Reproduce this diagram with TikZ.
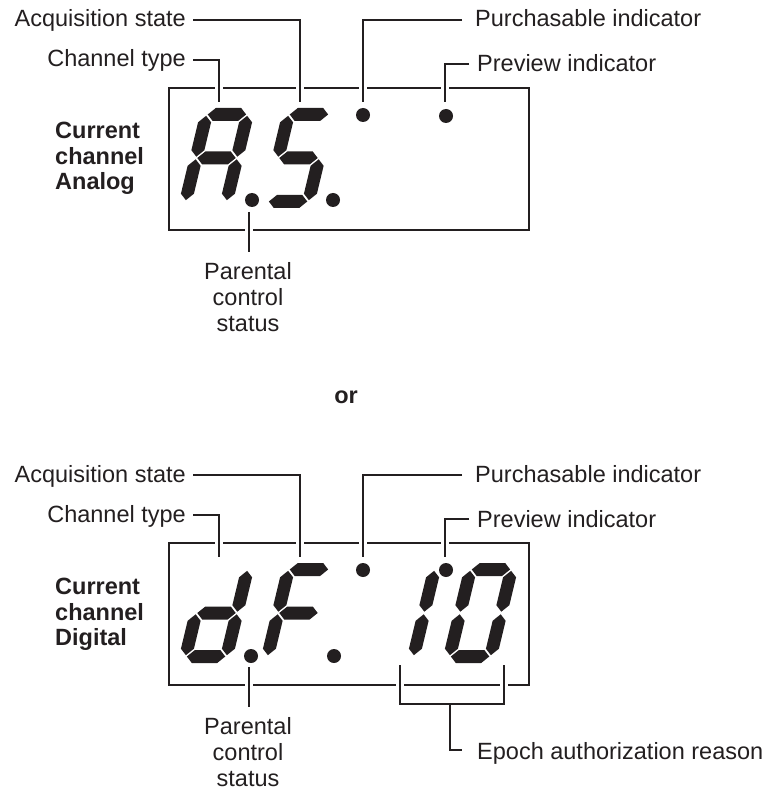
\documentclass[tikz,border=0pt]{standalone}
\usepackage{fontspec}
\setmainfont{Liberation Sans}
\definecolor{ink}{RGB}{35,31,32}
\tikzset{
  lbl/.style={inner sep=0pt, font=\fontsize{23.5}{26}\selectfont, text=ink},
  blbl/.style={inner sep=0pt, font=\fontsize{23.5}{26}\selectfont\bfseries, text=ink},
  frame/.style={draw=ink, line width=2.4pt, inner sep=0pt, minimum width=360pt, minimum height=142pt},
  leader/.style={draw=ink, line width=2.4pt, preaction={draw=white, line width=8.5pt}},
  plainleader/.style={draw=ink, line width=2.4pt},
  dotnode/.style={circle, fill=ink, minimum size=14pt, inner sep=0pt},
  seg/.style={fill=ink},
}
% hexagonal segments, thickness 13, in a local frame 54 x 100
\newcommand{\segH}[1]{\fill[seg] (7.8,#1) -- (14.3,#1+6.5) -- (39.7,#1+6.5) -- (46.2,#1) -- (39.7,#1-6.5) -- (14.3,#1-6.5) -- cycle;}
\newcommand{\segV}[3]{\fill[seg] (#1,#2+1.3) -- (#1+6.5,#2+7.8) -- (#1+6.5,#3-7.8) -- (#1,#3-1.3) -- (#1-6.5,#3-7.8) -- (#1-6.5,#2+7.8) -- cycle;}
\newcommand{\dsA}{\segH{93.5}}
\newcommand{\dsB}{\segV{47.5}{50}{93.5}}
\newcommand{\dsC}{\segV{47.5}{6.5}{50}}
\newcommand{\dsD}{\segH{6.5}}
\newcommand{\dsE}{\segV{6.5}{6.5}{50}}
\newcommand{\dsF}{\segV{6.5}{50}{93.5}}
\newcommand{\dsG}{\segH{50}}
\newcommand{\sevenseg}[3]{\begin{scope}[shift={(#1,#2)}, x=1pt, y=1pt, xslant=0.24] #3 \end{scope}}
\begin{document}
\begin{tikzpicture}[x=1pt, y=-1pt]
\useasboundingbox (0,0) rectangle (769,791);

% ---------------- top display (analog) ----------------
\node[frame, anchor=north west] (disp1) at (168,87) {};
\sevenseg{177.5}{208}{\dsA\dsB\dsC\dsE\dsF\dsG}
\sevenseg{259.5}{208}{\dsA\dsF\dsG\dsC\dsD}
\node[dotnode] (pc1) at (252,200) {};
\node[dotnode] (sdot1) at (333,200) {};
\node[dotnode] (pur1d) at (363,115) {};
\node[dotnode] (pre1d) at (446,116) {};

\node[lbl, anchor=base east] (acq1) at (186,27) {Acquisition state};
\node[lbl, anchor=base east] (ch1) at (186,67) {Channel type};
\node[lbl, anchor=base west] (pur1) at (475,27) {Purchasable indicator};
\node[lbl, anchor=base west] (pre1) at (477,72) {Preview indicator};
\node[blbl, anchor=base west] (cur1a) at (55,139) {Current};
\node[blbl, anchor=base west] (cur1b) at (55,165) {channel};
\node[blbl, anchor=base west] (cur1c) at (55,190) {Analog};
\node[lbl, anchor=base] (par1a) at (248,279) {Parental};
\node[lbl, anchor=base] (par1b) at (248,305) {control};
\node[lbl, anchor=base] (par1c) at (248,331) {status};

\coordinate (acq1s) at (193,20);  \coordinate (acq1t) at (300,102);
\coordinate (ch1s) at (193,60);   \coordinate (ch1t) at (219,102);
\coordinate (pur1s) at (462,20);  \coordinate (pur1t) at (363,102);
\coordinate (pre1s) at (469,64);  \coordinate (pre1t) at (445,102);
\coordinate (par1s) at (249,212); \coordinate (par1t) at (249,252);
\draw[leader] (acq1s) -| (acq1t);
\draw[leader] (ch1s) -| (ch1t);
\draw[leader] (pur1s) -| (pur1t);
\draw[leader] (pre1s) -| (pre1t);
\draw[leader] (par1s) -- (par1t);

% ---------------- or ----------------
\node[blbl, anchor=base] (or) at (346,403) {or};

% ---------------- bottom display (digital) ----------------
\node[frame, anchor=north west] (disp2) at (168,542) {};
\sevenseg{177.5}{663}{\dsB\dsC\dsD\dsE\dsG}
\sevenseg{259.5}{663}{\dsA\dsE\dsF\dsG}
\sevenseg{364.5}{663}{\dsB\dsC}
\sevenseg{441.5}{663}{\dsA\dsB\dsC\dsD\dsE\dsF}
\node[dotnode] (pc2) at (251,656) {};
\node[dotnode] (fdot2) at (334,656) {};
\node[dotnode] (pur2d) at (363,570) {};
\node[dotnode] (pre2d) at (446,570) {};

\node[lbl, anchor=base east] (acq2) at (186,482) {Acquisition state};
\node[lbl, anchor=base east] (ch2) at (186,522) {Channel type};
\node[lbl, anchor=base west] (pur2) at (475,482) {Purchasable indicator};
\node[lbl, anchor=base west] (pre2) at (477,527) {Preview indicator};
\node[blbl, anchor=base west] (cur2a) at (55,594) {Current};
\node[blbl, anchor=base west] (cur2b) at (55,620) {channel};
\node[blbl, anchor=base west] (cur2c) at (55,645) {Digital};
\node[lbl, anchor=base] (par2a) at (248,734) {Parental};
\node[lbl, anchor=base] (par2b) at (248,760) {control};
\node[lbl, anchor=base] (par2c) at (248,786) {status};
\node[lbl, anchor=base west] (epoch) at (477,759) {Epoch authorization reason};

\coordinate (acq2s) at (193,475);  \coordinate (acq2t) at (300,557);
\coordinate (ch2s) at (193,515);   \coordinate (ch2t) at (219,557);
\coordinate (pur2s) at (462,475);  \coordinate (pur2t) at (363,557);
\coordinate (pre2s) at (469,519);  \coordinate (pre2t) at (445,557);
\coordinate (par2s) at (249,667);  \coordinate (par2t) at (249,707);
\draw[leader] (acq2s) -| (acq2t);
\draw[leader] (ch2s) -| (ch2t);
\draw[leader] (pur2s) -| (pur2t);
\draw[leader] (pre2s) -| (pre2t);
\draw[leader] (par2s) -- (par2t);

\coordinate (brL) at (400,665); \coordinate (brR) at (504,665);
\coordinate (brM) at (450,704); \coordinate (epochs) at (462,750);
\draw[leader] (brL) |- (brR |- brM) -- (brR);
\draw[plainleader] (brM) |- (epochs);
\end{tikzpicture}
\end{document}
